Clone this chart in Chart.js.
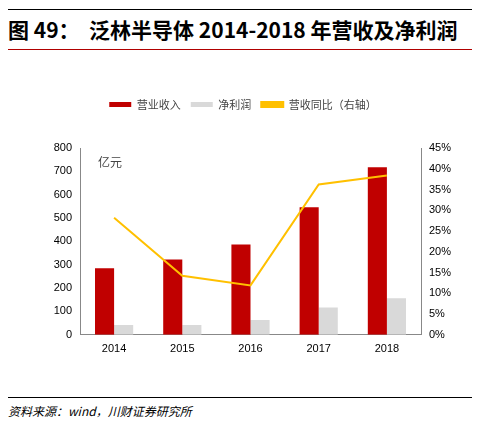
<!DOCTYPE html><html><head><meta charset="utf-8">
<script src="https://cdn.jsdelivr.net/npm/chart.js@4"></script>
<style>
body{margin:0;width:484px;height:431px;background:#fff;position:relative;font-family:"Noto Sans CJK SC",sans-serif;overflow:hidden}
#t{position:absolute;left:8px;top:9px;width:464px;height:41px;border-top:1px solid #000;border-bottom:1.5px solid #b00000;box-sizing:border-box;font-weight:bold;font-size:21px;line-height:39px;color:#000}
#c{position:absolute;left:0;top:89px;width:484px;height:270px}
#f{position:absolute;left:8px;top:397px;width:464px;border-top:1px solid #000;font-size:12px;font-style:italic;color:#000;padding-top:4px}
</style></head><body>
<div id="t">图 49：&nbsp;&nbsp;泛林半导体 2014-2018 年营收及净利润</div>
<div id="c"><canvas id="cv"></canvas></div>
<div id="f">资料来源：wind，川财证券研究所</div>
<script>
const categories=["2014","2015","2016","2017","2018"];
const revenue=[285,322,387,546,718];
const netProfit=[42,42,63,117,156];
const growth=[28.2,14.2,11.9,36.2,38.4];
const unitLabel={id:'u',afterDraw(c){const x=c.ctx;x.save();x.font='12px "Noto Sans CJK SC"';x.fillStyle='#444';x.fillText('亿元',c.chartArea.left+18,c.chartArea.top+14);x.restore();}};
const legendGap={id:'lg',beforeInit(c){const f=c.legend.fit;c.legend.fit=function(){f.call(this);this.height+=28;};}};
new Chart(document.getElementById('cv'),{
 data:{labels:categories,datasets:[
  {type:'line',label:'营收同比（右轴）',data:growth,yAxisID:'y1',borderColor:'#ffc000',backgroundColor:'#ffc000',borderWidth:2,pointRadius:0,order:0},
  {type:'bar',label:'营业收入',data:revenue,backgroundColor:'#c00000',yAxisID:'y',order:1,barPercentage:1,categoryPercentage:0.56},
  {type:'bar',label:'净利润',data:netProfit,backgroundColor:'#d9d9d9',yAxisID:'y',order:1,barPercentage:1,categoryPercentage:0.56}
 ]},
 options:{responsive:true,maintainAspectRatio:false,animation:false,
  layout:{padding:{left:10,right:8,top:0,bottom:0}},
  plugins:{legend:{labels:{boxWidth:22,boxHeight:5,font:{size:11,family:'"Noto Sans CJK SC"'},color:'#444',
     sort:(a,b)=>[1,2,0].indexOf(a.datasetIndex)-[1,2,0].indexOf(b.datasetIndex)}},tooltip:{enabled:false}},
  scales:{
   x:{grid:{display:false,tickLength:5},border:{color:'#888'},ticks:{color:'#000',font:{size:11,family:'Arial'}}},
   y:{min:0,max:800,ticks:{stepSize:100,color:'#000',font:{size:11,family:'Arial'}},grid:{display:false,tickLength:5},border:{color:'#888'},afterFit:s=>{s.width=70}},
   y1:{position:'right',min:0,max:45,ticks:{stepSize:5,callback:v=>v+'%',color:'#000',font:{size:11,family:'Arial'}},grid:{display:false,tickLength:5},border:{color:'#888'},afterFit:s=>{s.width=55}}
  }},
 plugins:[unitLabel,legendGap]
});
</script></body></html>
